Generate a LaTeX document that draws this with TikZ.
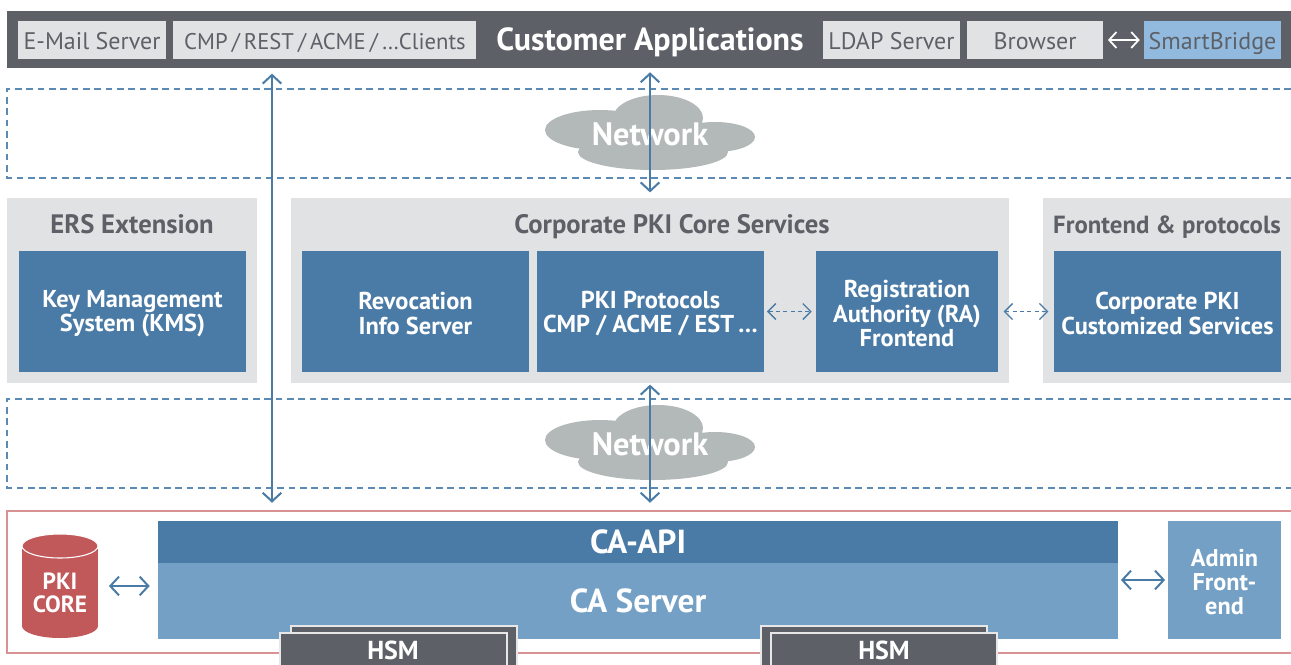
\documentclass[tikz,border=0pt]{standalone}
\usepackage{fontspec}
\setmainfont{PT Sans}
\usetikzlibrary{arrows.meta,fit}
\definecolor{dgrey}{HTML}{5D6167}
\definecolor{lgrey}{HTML}{E1E2E4}
\definecolor{pblue}{HTML}{4A7BA6}
\definecolor{lblue}{HTML}{73A0C4}
\definecolor{sblue}{HTML}{92BADF}
\definecolor{cloudc}{HTML}{B3B9B8}
\definecolor{pred}{HTML}{C1585A}
\definecolor{lred}{HTML}{D99294}
\definecolor{dashc}{HTML}{5B8BB5}
\tikzset{
  barbox/.style={fill=lgrey, inner sep=0pt},
  bartext/.style={text=dgrey, anchor=base, font=\fontsize{18}{20}\selectfont},
  panel/.style={fill=lgrey, inner sep=0pt},
  ptitle/.style={text=dgrey, anchor=base, font=\bfseries\fontsize{20}{22}\selectfont},
  bluebox/.style={fill=pblue, inner sep=0pt},
  boxtext/.style={text=white, align=center, yshift=-1.6pt, font=\bfseries\fontsize{18.3}{18.5}\selectfont},
  netlabel/.style={text=white, font=\bfseries\fontsize{24.3}{26}\selectfont},
  bigtext/.style={text=white, font=\bfseries\fontsize{25}{27}\selectfont},
  dashbox/.style={draw=dashc, line width=0.9pt, dash pattern=on 5pt off 3.5pt},
  dblarr/.style={draw=pblue, line width=1.5pt, {Straight Barb[length=6.5pt,width=14pt]}-{Straight Barb[length=6.5pt,width=14pt]}},
  dasharr/.style={draw=pblue, line width=1pt, dash pattern=on 3pt off 2.5pt, {Straight Barb[length=6pt,width=12pt]}-{Straight Barb[length=6pt,width=12pt]}},
  hsmbox/.style={fill=dgrey, draw=white!85!dgrey, line width=0.8pt, inner sep=0pt},
  hsmtext/.style={text=white, anchor=base, inner sep=0.5pt, font=\bfseries\fontsize{19.5}{20}\selectfont},
}
\newcommand{\netcloud}[1]{%
  \begin{scope}[yshift=#1]
    \fill[cloudc] (658,118) ellipse [x radius=45, y radius=23];
    \fill[cloudc] (600,130) ellipse [x radius=55, y radius=20];
    \fill[cloudc] (715,137) ellipse [x radius=40, y radius=15];
    \fill[cloudc] (653,152) ellipse [x radius=75, y radius=18];
  \end{scope}}
\begin{document}
\begin{tikzpicture}[x=0.75pt,y=-0.75pt]
\useasboundingbox (0,0) rectangle (1291,664);
\fill[white] (0,0) rectangle (1291,664);

% top bar
\node[fill=dgrey, inner sep=0pt, fit={(7,11)(1295,68)}] (bar) {};
\node[barbox, fit={(18,21)(166,59)}] (email) {};
\node[bartext] at (92,49) (emailt) {E-Mail Server};
\node[barbox, fit={(173,21)(476,59)}] (cmp) {};
\node[bartext, font=\fontsize{17}{20}\selectfont] at (325,49) (cmpt) {CMP\kern3pt/\kern3pt REST\kern3pt/\kern3pt ACME\kern3pt/\kern3pt\ldots Clients};
\node[text=white, anchor=base, font=\bfseries\fontsize{24}{26}\selectfont] (custapp) at (650,50) {Customer Applications};
\node[barbox, fit={(823,21)(960,59)}] (ldap) {};
\node[bartext] at (891.5,49) (ldapt) {LDAP Server};
\node[barbox, fit={(967,21)(1103,59)}] (browser) {};
\node[bartext] at (1035,49) (browsert) {Browser};
\node[fill=sblue, inner sep=0pt, fit={(1144,21)(1281,59)}] (smart) {};
\node[bartext] at (1212.5,49) (smartt) {SmartBridge};
\draw[white, line width=1.3pt, {Straight Barb[length=5.5pt,width=12pt]}-{Straight Barb[length=5.5pt,width=12pt]}, shorten <=3.5pt, shorten >=3pt] (browser.east) -- (smart.west);

% dashed regions
\draw[dashbox] (1291,89) -- (7,89) -- (7,178) -- (1291,178);
\draw[dashbox] (1291,399) -- (7,399) -- (7,488) -- (1291,488);

% clouds
\netcloud{0}
\node[netlabel] (net1) at (650,134) {Network};
\netcloud{-232.5pt}
\node[netlabel] (net2) at (650,444) {Network};

% panels
\node[panel, fit={(7,198)(257,383)}] (ers) {};
\node[ptitle] (erst) at (132,233) {ERS Extension};
\node[panel, fit={(291,198)(1009,383)}] (core) {};
\node[ptitle] (coret) at (672,233) {Corporate PKI Core Services};
\node[panel, fit={(1043,198)(1295,383)}] (fep) {};
\node[ptitle, font=\bfseries\fontsize{18.6}{22}\selectfont] (fept) at (1167,233) {Frontend \& protocols};

\node[bluebox, fit={(19,251)(246,372)}] (kms) {};
\node[boxtext] at (kms.center) (kmst) {Key Management\\System (KMS)};
\node[bluebox, fit={(302,251)(529,372)}] (rev) {};
\node[boxtext] at (rev.center) (revt) {Revocation\\Info Server};
\node[bluebox, fit={(537,251)(764,372)}] (proto) {};
\node[boxtext] at (proto.center) (protot) {PKI Protocols\\CMP / ACME / EST\,\ldots};
\node[bluebox, fit={(816,251)(998,372)}] (ra) {};
\node[boxtext] at (ra.center) (rat) {Registration\\Authority (RA)\\Frontend};
\node[bluebox, fit={(1054,251)(1281,372)}] (cust) {};
\node[boxtext] at (cust.center) (custt) {Corporate PKI\\Customized Services};

\draw[dasharr, shorten <=2pt, shorten >=3pt] (proto.east) -- (ra.west);
\draw[dasharr, shorten <=4pt, shorten >=4pt] (ra.east) -- (cust.west);

% red CA region
\draw[lred, line width=0.9pt] (1295,511) -- (7,511) -- (7,653) -- (1295,653);
\node[fill=pblue, inner sep=0pt, fit={(158,521)(1118,563)}] (caapi) {};
\node[bigtext] at (caapi.center) (caapit) {CA-API};
\node[fill=lblue, inner sep=0pt, fit={(158,563)(1118,639)}] (caserv) {};
\node[bigtext] at (638,601) (caservt) {CA Server};
\node[fill=lblue, inner sep=0pt, fit={(1168,521)(1281,639)}] (admin) {};
\node[boxtext, font=\bfseries\fontsize{18.2}{18}\selectfont] at (admin.center) (admint) {Admin\\Front-\\end};

% cylinder
\node[inner sep=0pt, fit={(22,534)(98,638)}] (cyl) {};
\fill[pred] (22,546) rectangle (98,626);
\fill[pred] (60,626) ellipse [x radius=38, y radius=12];
\fill[pred,draw=white,line width=0.8pt] (60,546) ellipse [x radius=38, y radius=12];
\node[text=white, align=center, font=\bfseries\fontsize{17.6}{17}\selectfont] at (60,593) (pkicore) {PKI\\CORE};

\draw[dblarr, shorten <=8pt, shorten >=6pt] (cyl.east) -- (cyl.east -| caserv.west);
\draw[dblarr, shorten <=2pt, shorten >=2pt] (admin.west -| caserv.east) -- (admin.west);

% HSMs
\node[hsmbox, fit={(291,626)(517,680)}] (hsm1b) {};
\node[hsmbox, fit={(280,633)(507,680)}] (hsm1) {};
\node[hsmtext] at (393,659) (hsm1t) {HSM};
\node[hsmbox, fit={(761,626)(987,680)}] (hsm2b) {};
\node[hsmbox, fit={(771,633)(997,680)}] (hsm2) {};
\node[hsmtext] at (884,659) (hsm2t) {HSM};

% vertical arrows
\coordinate (lx) at (272,0);
\draw[dblarr, shorten <=4pt, shorten >=13.5pt] (bar.south -| lx) -- (caapi.north -| lx);
\draw[dblarr, shorten <=3pt, shorten >=4pt] (bar.south -| net1) -- (core.north -| net1);
\draw[dblarr, shorten <=1pt, shorten >=13.5pt] (core.south -| net2) -- (caapi.north -| net2);
\end{tikzpicture}
\end{document}
